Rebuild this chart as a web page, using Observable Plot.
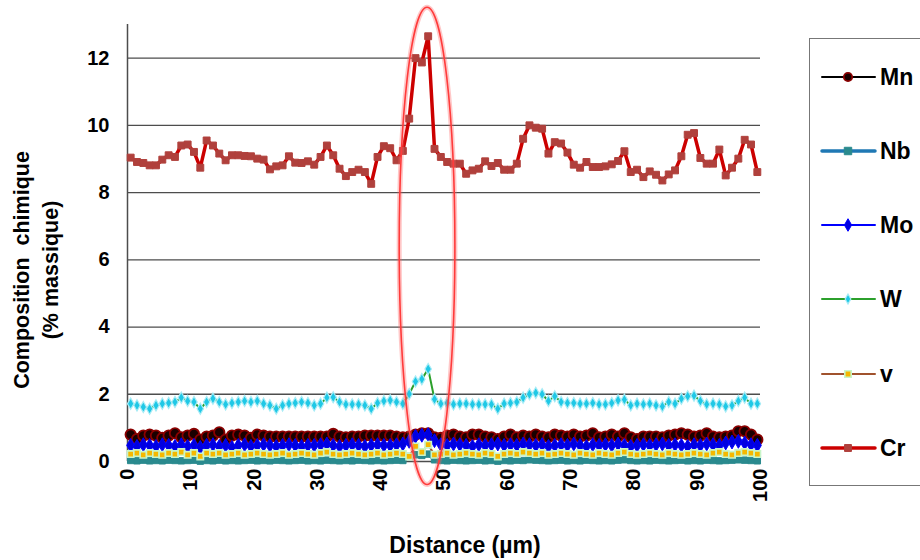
<!DOCTYPE html>
<html><head><meta charset="utf-8">
<script src="https://cdn.jsdelivr.net/npm/d3@7"></script>
<script src="https://cdn.jsdelivr.net/npm/@observablehq/plot@0.6"></script>
<style>
html,body{margin:0;padding:0;background:#fff;}
#chart svg{display:block;}
</style></head><body><div id="chart"></div>
<script>
// ---- data ----
const distance = d3.range(100).map(i => i + 0.5); // µm, one analysis point per µm
const xTicks = [0, 10, 20, 30, 40, 50, 60, 70, 80, 90, 100];
const yTicks = [0, 2, 4, 6, 8, 10, 12];
const seriesNames = ["Mn", "Nb", "Mo", "W", "v", "Cr"];

const cr = [9.04, 8.91, 8.88, 8.81, 8.81, 8.98, 9.11, 9.06, 9.40, 9.43, 9.21, 8.74, 9.55, 9.40, 9.16, 8.96, 9.11,
  9.11, 9.09, 9.08, 9.01, 8.98, 8.69, 8.78, 8.81, 9.08, 8.89, 8.88, 8.93, 8.83, 9.06, 9.40, 9.11,
  8.71, 8.49, 8.61, 8.68, 8.61, 8.26, 9.06, 9.38, 9.32, 8.96, 9.24, 10.2, 12.0, 11.87, 12.65, 9.30, 9.06,
  8.91, 8.86, 8.86, 8.56, 8.66, 8.71, 8.93, 8.79, 8.88, 8.68, 8.68, 8.86, 9.60, 10.0, 9.93, 9.90, 9.16,
  9.50, 9.46, 9.19, 8.83, 8.74, 8.91, 8.76, 8.76, 8.78, 8.84, 8.94, 9.23, 8.61, 8.68, 8.46, 8.63,
  8.53, 8.36, 8.54, 8.66, 9.08, 9.72, 9.77, 9.03, 8.86, 8.86, 9.28, 8.51, 8.74, 9.01, 9.57, 9.43, 8.61];

const w = [1.72, 1.67, 1.62, 1.57, 1.67, 1.72, 1.74, 1.77, 1.90, 1.80, 1.77, 1.57, 1.77, 1.87, 1.77, 1.70, 1.74, 1.77, 1.80, 1.77,
  1.80, 1.72, 1.67, 1.57, 1.67, 1.72, 1.74, 1.77, 1.74, 1.67, 1.72, 1.90, 1.91, 1.77, 1.70, 1.70, 1.70, 1.67, 1.57, 1.74,
  1.80, 1.82, 1.77, 1.72, 2.01, 2.38, 2.45, 2.75, 1.85,
  1.72, 1.74, 1.70, 1.72, 1.72, 1.70, 1.70, 1.70, 1.70, 1.57, 1.72, 1.74, 1.77, 1.90, 2.00, 2.04, 2.00, 1.80, 1.94, 1.77,
  1.74, 1.74, 1.72, 1.72, 1.74, 1.70, 1.70, 1.74, 1.82, 1.84, 1.67, 1.72, 1.70, 1.72, 1.67, 1.64, 1.77, 1.72, 1.87, 1.94,
  1.96, 1.80, 1.70, 1.72, 1.70, 1.64, 1.67, 1.80, 1.90, 1.72, 1.72];

const mn = [0.80, 0.67, 0.77, 0.80, 0.77, 0.70, 0.77, 0.84, 0.72, 0.77, 0.82, 0.65, 0.74, 0.77, 0.87, 0.65, 0.77, 0.80, 0.77, 0.70,
  0.80, 0.77, 0.74, 0.74, 0.74, 0.74, 0.74, 0.74, 0.74, 0.74, 0.74, 0.74, 0.82, 0.74, 0.72, 0.74, 0.74, 0.77, 0.77, 0.77,
  0.77, 0.77, 0.74, 0.72, 0.74, 0.80, 0.84, 0.84, 0.72,
  0.70, 0.77, 0.80, 0.74, 0.72, 0.80, 0.80, 0.74, 0.72, 0.67, 0.74, 0.80, 0.72, 0.77, 0.74, 0.80, 0.74, 0.72, 0.80, 0.77,
  0.74, 0.80, 0.74, 0.77, 0.84, 0.72, 0.74, 0.80, 0.74, 0.84, 0.72, 0.67, 0.74, 0.74, 0.74, 0.72, 0.77, 0.80, 0.84, 0.80,
  0.74, 0.77, 0.84, 0.74, 0.72, 0.74, 0.77, 0.90, 0.90, 0.80, 0.65];

const mo = [0.48, 0.45, 0.50, 0.48, 0.45, 0.50, 0.48, 0.45, 0.50, 0.45, 0.48, 0.42, 0.48, 0.50, 0.45, 0.48, 0.42, 0.48, 0.50, 0.45,
  0.48, 0.50, 0.48, 0.45, 0.48, 0.50, 0.48, 0.45, 0.48, 0.48, 0.50, 0.52, 0.48, 0.45, 0.48, 0.50, 0.48, 0.45, 0.48, 0.50,
  0.48, 0.48, 0.50, 0.52, 0.60, 0.75, 0.78, 0.80, 0.62,
  0.50, 0.48, 0.52, 0.50, 0.48, 0.45, 0.50, 0.48, 0.50, 0.52, 0.48, 0.50, 0.48, 0.52, 0.50, 0.48, 0.50, 0.45, 0.48, 0.50,
  0.48, 0.52, 0.48, 0.45, 0.50, 0.48, 0.50, 0.48, 0.52, 0.48, 0.45, 0.48, 0.50, 0.48, 0.50, 0.52, 0.48, 0.50, 0.48, 0.45,
  0.50, 0.48, 0.52, 0.50, 0.48, 0.55, 0.58, 0.60, 0.55, 0.50, 0.48];

const v = [0.22, 0.25, 0.20, 0.25, 0.22, 0.20, 0.25, 0.22, 0.28, 0.20, 0.25, 0.15, 0.25, 0.22, 0.25, 0.20, 0.22, 0.25, 0.20, 0.22,
  0.25, 0.22, 0.20, 0.22, 0.25, 0.20, 0.22, 0.25, 0.22, 0.20, 0.25, 0.28, 0.22, 0.20, 0.22, 0.25, 0.22, 0.20, 0.22, 0.25,
  0.20, 0.22, 0.25, 0.22, 0.15, 0.45, 0.28, 0.50, 0.20,
  0.22, 0.25, 0.20, 0.22, 0.25, 0.22, 0.20, 0.25, 0.22, 0.15, 0.22, 0.25, 0.22, 0.28, 0.25, 0.22, 0.25, 0.20, 0.22, 0.25,
  0.22, 0.20, 0.25, 0.22, 0.20, 0.25, 0.22, 0.20, 0.25, 0.28, 0.22, 0.20, 0.22, 0.25, 0.22, 0.20, 0.25, 0.22, 0.20, 0.22,
  0.25, 0.22, 0.20, 0.25, 0.28, 0.22, 0.20, 0.25, 0.28, 0.25, 0.22];

const nb = [0.03, 0.02, 0.04, 0.02, 0.03, 0.02, 0.04, 0.03, 0.02, 0.03, 0.04, 0.01, 0.03, 0.02, 0.04, 0.02, 0.03, 0.02, 0.03, 0.04,
  0.02, 0.03, 0.02, 0.04, 0.03, 0.02, 0.03, 0.04, 0.02, 0.03, 0.02, 0.04, 0.03, 0.02, 0.03, 0.02, 0.04, 0.03, 0.02, 0.03,
  0.02, 0.03, 0.04, 0.03, 0.15, 0.20, 0.18, 0.22, 0.05,
  0.03, 0.02, 0.04, 0.03, 0.02, 0.03, 0.04, 0.02, 0.03, 0.01, 0.03, 0.02, 0.04, 0.03, 0.05, 0.04, 0.03, 0.02, 0.03, 0.04,
  0.02, 0.03, 0.02, 0.04, 0.03, 0.02, 0.03, 0.02, 0.04, 0.05, 0.03, 0.02, 0.03, 0.02, 0.04, 0.03, 0.02, 0.03, 0.04, 0.02,
  0.03, 0.02, 0.04, 0.03, 0.02, 0.03, 0.04, 0.05, 0.04, 0.03, 0.02];

// ---- styles ----
const styles = {
  Mn: {line: "#000000", lw: 2, symbol: "circle", r: 5.2, lr: 4.2, fill: "#1a0000", mstroke: "#8b0000", msw: 1.8},
  Nb: {line: "#1f78b4", lw: 3.5, symbol: "square", r: 3.6, lr: 4.2, fill: "#2a8a8e", mstroke: "#2a8a8e", msw: 1},
  Mo: {line: "#0000ff", lw: 2, symbol: "diamond", r: 4.2, lr: 3.8, fill: "#0000e0", mstroke: "#0000ff", msw: 1},
  W:  {line: "#2ca02c", lw: 2, symbol: "diamond", r: 3.4, lr: 3, fill: "#1fc8e6", mstroke: "#a8ecf6", msw: 1.2},
  v:  {line: "#a0522d", lw: 2, symbol: "square", r: 3.6, lr: 3.6, fill: "#f5b800", mstroke: "#c8f5c8", msw: 1.6},
  Cr: {line: "#cc0000", lw: 3.5, symbol: "square", r: 3.9, lr: 3.9, fill: "#b0403c", mstroke: "#b0403c", msw: 1}
};
const valuesByName = {Mn: mn, Nb: nb, Mo: mo, W: w, v: v, Cr: cr};
const rows = name => distance.map((d, i) => ({x: d, y: valuesByName[name][i]}));

const marks = [
  Plot.ruleY(yTicks, {x1: 0, x2: 100, stroke: "#4d4d4d", strokeWidth: 1.3}),
  Plot.ruleX([0], {y1: 0, y2: 13, stroke: "#4d4d4d", strokeWidth: 1.5})
];
for (const name of seriesNames) {
  const s = styles[name];
  marks.push(Plot.line(rows(name), {x: "x", y: "y", stroke: s.line, strokeWidth: s.lw, curve: "linear"}));
  marks.push(Plot.dot(rows(name), {x: "x", y: "y", symbol: s.symbol, r: s.r, fill: s.fill, stroke: s.mstroke, strokeWidth: s.msw}));
}

const chart = Plot.plot({
  width: 920, height: 560,
  marginLeft: 127, marginRight: 160, marginTop: 24, marginBottom: 99,
  x: {domain: [0, 100], ticks: xTicks, tickRotate: -90, tickSize: 0, tickPadding: 7, label: null},
  y: {domain: [0, 13], ticks: yTicks, tickSize: 0, tickPadding: 18, label: null},
  style: {fontFamily: "'Liberation Sans', Arial, sans-serif", fontSize: "20px", fontWeight: "bold", color: "#000", background: "#fff", overflow: "visible"},
  marks
});
document.getElementById("chart").appendChild(chart);

const svg = d3.select(chart);
const sx = chart.scale("x"), sy = chart.scale("y");

// red ellipse annotation around the peak
const ecx = sx.apply(47.4), ecy = sy.apply(6.4);
const erx = sx.apply(47.4 + 4.4) - ecx, ery = sy.apply(6.4) - sy.apply(13.5);
svg.append("ellipse").attr("cx", ecx).attr("cy", ecy).attr("rx", erx).attr("ry", ery)
  .attr("fill", "none").attr("stroke", "#ff6060").attr("stroke-opacity", 0.35).attr("stroke-width", 5);
svg.append("ellipse").attr("cx", ecx).attr("cy", ecy).attr("rx", erx).attr("ry", ery)
  .attr("fill", "none").attr("stroke", "#ff3b3b").attr("stroke-width", 1.6);

// axis titles
svg.append("text").attr("x", 465).attr("y", 553).attr("text-anchor", "middle")
  .attr("font-size", 23).attr("font-weight", "bold").text("Distance (µm)");
svg.append("text").attr("transform", "translate(29,270) rotate(-90)").attr("text-anchor", "middle")
  .attr("font-size", 21.5).attr("font-weight", "bold").style("white-space", "pre").text("Composition  chimique");
svg.append("text").attr("transform", "translate(58,270) rotate(-90)").attr("text-anchor", "middle")
  .attr("font-size", 21.5).attr("font-weight", "bold").text("(% massique)");

// legend
const lg = svg.append("g").attr("text-anchor", "start");
lg.append("rect").attr("x", 809.5).attr("y", 38.5).attr("width", 140).attr("height", 447)
  .attr("fill", "#fff").attr("stroke", "#777").attr("stroke-width", 1);
const legendY = [77, 151, 225, 299, 374, 448];
const symMap = {circle: d3.symbolCircle, square: d3.symbolSquare, diamond: d3.symbolDiamond};
seriesNames.forEach((name, i) => {
  const s = styles[name], y = legendY[i];
  lg.append("line").attr("x1", 822).attr("x2", 875).attr("y1", y).attr("y2", y)
    .attr("stroke", s.line).attr("stroke-width", s.lw).attr("stroke-linecap", "round");
  lg.append("path").attr("transform", `translate(848,${y})`)
    .attr("d", d3.symbol(symMap[s.symbol], Math.PI * s.lr * s.lr)())
    .attr("fill", s.fill).attr("stroke", s.mstroke).attr("stroke-width", s.msw);
  lg.append("text").attr("x", 880).attr("y", y).attr("dy", "0.36em").attr("text-anchor", "start")
    .attr("font-size", 23).attr("font-weight", "bold").text(name);
});
</script></body></html>
